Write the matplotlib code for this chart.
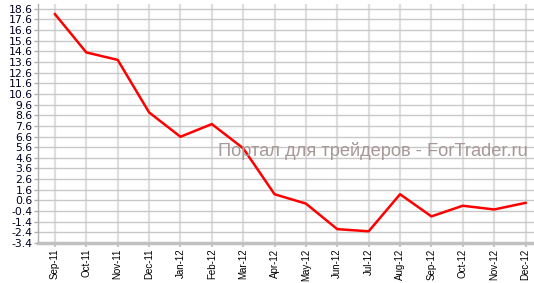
import matplotlib
matplotlib.use("Agg")
import matplotlib.pyplot as plt
import numpy as np

months = ["Sep-11", "Oct-11", "Nov-11", "Dec-11", "Jan-12", "Feb-12", "Mar-12",
          "Apr-12", "May-12", "Jun-12", "Jul-12", "Aug-12", "Sep-12", "Oct-12",
          "Nov-12", "Dec-12"]
values = [18.1, 14.5, 13.8, 8.87, 6.58, 7.77, 5.5, 1.18, 0.3, -2.1, -2.3,
          1.18, -0.9, 0.1, -0.25, 0.37]
ytick_values = [round(-3.4 + i, 1) for i in range(23)]
ytick_labels = ["%.1f" % v for v in ytick_values]
watermark = "Портал для трейдеров - ForTrader.ru"

fig = plt.figure(figsize=(5.34, 2.83), dpi=100)
ax = fig.add_axes([38/534, 1 - 243/283, 1 - 38/534, (243 - 4)/283])

x = np.arange(len(months))
ax.plot(x, values, color="#ff0000", lw=1.8, zorder=3)

ax.set_xlim(-0.54, 15.27)
ax.set_ylim(-3.4, 19.05)
ax.set_yticks(ytick_values)
ax.set_yticklabels(ytick_labels, fontsize=7.8, family="DejaVu Sans", color="#000022")
ax.set_xticks(x)
ax.set_xticklabels(months, rotation=90, fontsize=7.0, family="Liberation Sans", color="#000000")

ax.grid(axis="y", color="#c8c8c8", lw=1.0)
ax.grid(axis="x", color="#dedede", lw=1.6)
ax.set_axisbelow(True)

for s in ["top", "right"]:
    ax.spines[s].set_visible(False)
ax.spines["left"].set_color("#b0b0b0")
ax.spines["left"].set_linewidth(1.0)
ax.spines["bottom"].set_color("#c0c0c0")
ax.spines["bottom"].set_linewidth(2.5)
ax.tick_params(axis="y", length=3, width=1, color="#b0b0b0", pad=1)
ax.tick_params(axis="x", length=3, width=1.5, color="#c8c8c8", pad=1)

t = fig.text(218/534, 1 - 151/283, watermark, fontsize=13, family="Liberation Sans",
             color="#a89898", ha="left", va="center")
fig.canvas.draw()
bb = t.get_window_extent()
target = 527 - 218
t.set_fontsize(13 * target / bb.width)

fig.savefig("out.png", dpi=100)
